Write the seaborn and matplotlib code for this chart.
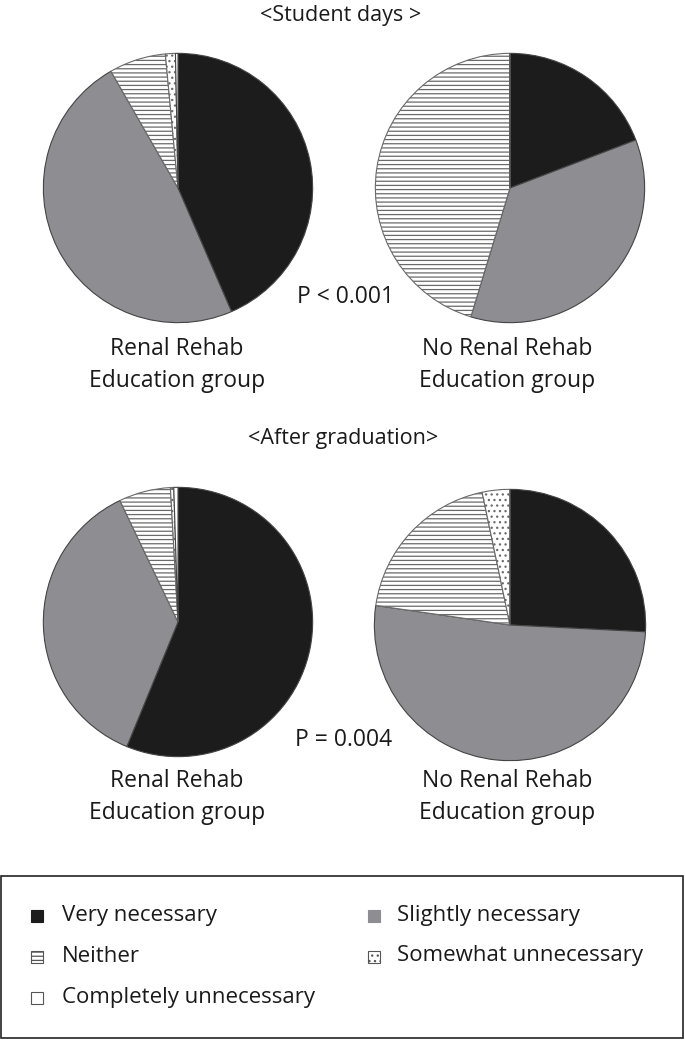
import matplotlib
matplotlib.use("Agg")
import matplotlib.pyplot as plt
from matplotlib.patches import Rectangle
import seaborn as sns

categories = ["Very necessary", "Slightly necessary", "Neither",
              "Somewhat unnecessary", "Completely unnecessary"]
student_rehab = [43.5, 48.2, 6.8, 1.2, 0.3]
student_norehab = [19.2, 35.5, 45.3, 0.0, 0.0]
after_rehab = [56.2, 36.7, 6.2, 0.4, 0.5]
after_norehab = [25.8, 51.5, 19.4, 3.3, 0.0]
section_titles = ["<Student days >", "<After graduation>"]
p_values = ["P < 0.001", "P = 0.004"]
group_labels = ["Renal Rehab\nEducation group", "No Renal Rehab\nEducation group"]

sns.set_theme(style="white")
plt.rcParams["font.family"] = ["Open Sans", "DejaVu Sans"]
plt.rcParams["hatch.linewidth"] = 0.9

colors = ["#1c1c1c", "#8e8e92", "white", "white", "white"]
hatches = [None, None, "----", "...", None]
edge = "#444444"
tcol = "#1a1a1a"

W, H = 685, 1040
fig = plt.figure(figsize=(W / 100, H / 100), dpi=100)


def pie_at(cx, cy, r, values):
    ax = fig.add_axes([(cx - r) / W, (H - cy - r) / H, 2 * r / W, 2 * r / H])
    wedges, _ = ax.pie(values, colors=colors, startangle=90, counterclock=False,
                       wedgeprops=dict(edgecolor=edge, linewidth=0.8))
    for w, h in zip(wedges, hatches):
        if h:
            w.set_hatch(h)
            w.set_edgecolor("#6a6a6a")
    ax.set_xlim(-1.01, 1.01)
    ax.set_ylim(-1.01, 1.01)
    ax.set_aspect("equal")
    ax.axis("off")


pie_at(178, 188, 136, student_rehab)
pie_at(510, 188, 136, student_norehab)
pie_at(178, 622, 136, after_rehab)
pie_at(510, 625, 137, after_norehab)


def txt(x, y, s, size=16, ha="center", **kw):
    fig.text(x / W, 1 - y / H, s, ha=ha, va="center", fontsize=size,
             color=tcol, **kw)


txt(341, 16, section_titles[0], size=15.5)
txt(343, 438, section_titles[1], size=15.5)
txt(345, 297, p_values[0], size=16.5)
txt(344, 740, p_values[1], size=16.5)
for (x, y), lab in zip([(177, 365), (507, 365), (177, 797), (507, 797)],
                       group_labels * 2):
    txt(x, y, lab, size=16.5, linespacing=1.45)

# legend box
fig.add_artist(Rectangle((1 / W, 1 - 1038 / H), 682 / W, 162 / H,
                         transform=fig.transFigure, fill=False,
                         edgecolor="#222222", linewidth=1.2))

leg_order = ["Very necessary", "Slightly necessary", "Neither",
             "Somewhat unnecessary", "Completely unnecessary"]
col_x = [(31, 62), (368, 397)]
row_y = [917, 958, 999]
style = {c: (col, h) for c, col, h in zip(categories, colors, hatches)}
for i, name in enumerate(leg_order):
    (mx, tx) = col_x[i % 2]
    y = row_y[i // 2]
    col, h = style[name]
    ec = col if (h is None and col != "white") else "#555555"
    fig.add_artist(Rectangle((mx / W, 1 - (y + 5) / H), 12 / W, 12 / H,
                             transform=fig.transFigure, facecolor=col,
                             edgecolor=ec, hatch=h, linewidth=0.8))
    txt(tx, y - 2, name, size=16, ha="left")

fig.savefig("out.png", dpi=100)
